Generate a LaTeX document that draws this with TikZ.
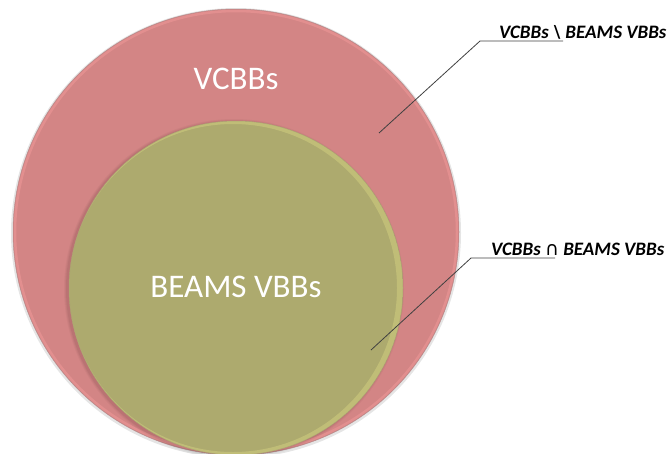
\documentclass[tikz,border=0pt]{standalone}
\usepackage{fontspec}
\setmainfont{Carlito}
\newfontfamily\symfont{DejaVu Sans}
\definecolor{pinkfill}{RGB}{211,133,133}
\definecolor{pinkrim}{RGB}{236,150,150}
\definecolor{pinkedge}{RGB}{175,135,135}
\definecolor{olivefill}{RGB}{173,170,110}
\definecolor{oliverim}{RGB}{208,206,128}
\definecolor{oliveedge}{RGB}{170,160,115}
\begin{document}
\begin{tikzpicture}[x=1pt,y=-1pt,
  setlabel/.style={text=white,font=\fontsize{33}{36}\selectfont,inner sep=0pt},
  calloutlabel/.style={text=black,font=\fontsize{19}{22}\selectfont\bfseries\itshape,
    inner sep=0pt,anchor=base west},
  leader/.style={draw=black!75,line width=0.8pt}]
\useasboundingbox (0,0) rectangle (668,453);
\begin{scope}
\clip (0,0) rectangle (668,453);
% outer set: VCBBs
\fill[black,opacity=0.10] (236,233) circle[radius=225];
\fill[pinkfill] (236,232) circle[radius=223];
\draw[pinkrim,line width=2.5pt,opacity=0.6] (236,232) circle[radius=221];
\draw[pinkedge,line width=0.5pt,opacity=0.8] (236,232) circle[radius=223];
% soft shadow of the inner set on the outer one
\foreach \r/\o in {170/0.03,169/0.04,168/0.05}
  \fill[black,opacity=\o] (234,289) circle[radius=\r];
% inner set: BEAMS VBBs
\fill[olivefill] (236,288) circle[radius=167];
\begin{scope}
\clip (236,288) circle[radius=167];
\fill[oliverim,opacity=0.55,even odd rule] (236,288) circle[radius=167] (233,288) circle[radius=164];
\end{scope}
\draw[oliveedge,line width=0.5pt,opacity=0.8] (236,288) circle[radius=167];
\end{scope}

\node[setlabel] (outer) at (236,79) {VCBBs};
\node[setlabel] (inner) at (236,287) {BEAMS VBBs};

% callouts
\node[calloutlabel] (diff) at (499,38) {VCBBs \textbackslash{} BEAMS VBBs};
\node[calloutlabel] (inter) at (491,255) {VCBBs {\symfont\upshape\mdseries\fontsize{19}{22}\selectfont ∩} BEAMS VBBs};

\coordinate (diffpt) at (379,133);
\coordinate (diffelbow) at (480,41);
\coordinate (diffend) at (563,41);
\coordinate (interpt) at (371,350);
\coordinate (interelbow) at (471,258);
\coordinate (interend) at (555,258);

\draw[leader] (diffpt) -- (diffelbow) -- (diffend);
\draw[leader] (interpt) -- (interelbow) -- (interend);
\end{tikzpicture}
\end{document}
